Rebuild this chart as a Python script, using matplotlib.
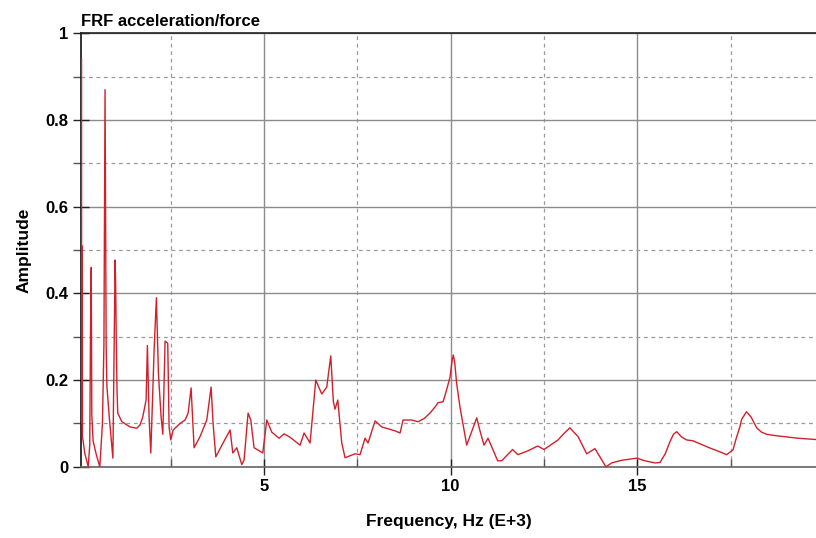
import matplotlib
matplotlib.use('Agg')
import matplotlib.pyplot as plt
from matplotlib.ticker import MultipleLocator, FormatStrFormatter

plt.rcParams['font.family'] = ['Liberation Sans', 'DejaVu Sans']

### DATA (frequency in kHz)

freq = [0.11, 0.113, 0.116, 0.12, 0.125, 0.135, 0.20, 0.29, 0.33, 0.35, 0.37, 0.385,
        0.42, 0.50, 0.60, 0.67, 0.71, 0.74, 0.755, 0.77, 0.79, 0.86, 0.95, 0.985,
        1.01, 1.025, 1.04, 1.06, 1.08, 1.19, 1.32, 1.41, 1.59, 1.68, 1.75, 1.84,
        1.875, 1.92, 1.966, 2.055, 2.116, 2.17, 2.242, 2.288, 2.349, 2.42, 2.456,
        2.502, 2.564, 2.75, 2.885, 2.966, 3.046, 3.126, 3.287, 3.466, 3.582, 3.635,
        3.708, 3.903, 4.091, 4.163, 4.27, 4.404, 4.466, 4.573, 4.645, 4.733, 4.966,
        5.074, 5.208, 5.403, 5.537, 5.70, 5.966, 6.073, 6.234, 6.386, 6.547, 6.681,
        6.788, 6.858, 6.903, 6.976, 7.083, 7.171, 7.439, 7.573, 7.707, 7.787, 7.975,
        8.154, 8.511, 8.645, 8.725, 8.958, 9.127, 9.30, 9.448, 9.60, 9.663, 9.797,
        9.90, 9.984, 10.04, 10.072, 10.11, 10.16, 10.25, 10.431, 10.699, 10.78,
        10.895, 11.002, 11.26, 11.369, 11.66, 11.8, 12.073, 12.333, 12.502, 12.877,
        13.05, 13.198, 13.30, 13.413, 13.646, 13.868, 14.16, 14.315, 14.583, 14.985,
        15.20, 15.475, 15.609, 15.75, 15.877, 15.97, 16.057, 16.20, 16.325, 16.493,
        16.90, 17.20, 17.396, 17.565, 17.65, 17.752, 17.80, 17.927, 18.05, 18.20,
        18.33, 18.468, 18.70, 18.905, 19.30, 19.79]

amp = [0.94, 0.10, 0.51, 0.30, 0.50, 0.07, 0.03, 0.0, 0.05, 0.31, 0.46, 0.12,
       0.06, 0.03, 0.0, 0.10, 0.28, 0.87, 0.60, 0.28, 0.185, 0.108, 0.02, 0.30,
       0.477, 0.415, 0.30, 0.18, 0.124, 0.104, 0.097, 0.092, 0.089, 0.097, 0.115, 0.154,
       0.28, 0.115, 0.032, 0.27, 0.39, 0.216, 0.115, 0.075, 0.29, 0.285, 0.092,
       0.062, 0.085, 0.10, 0.108, 0.124, 0.182, 0.044, 0.07, 0.108, 0.184, 0.10,
       0.023, 0.055, 0.085, 0.032, 0.044, 0.005, 0.016, 0.124, 0.108, 0.044, 0.032,
       0.108, 0.08, 0.066, 0.076, 0.068, 0.05, 0.078, 0.055, 0.20, 0.168, 0.184,
       0.256, 0.15, 0.133, 0.154, 0.055, 0.021, 0.03, 0.028, 0.066, 0.055, 0.106,
       0.092, 0.083, 0.078, 0.108, 0.108, 0.104, 0.112, 0.124, 0.14, 0.148, 0.15,
       0.18, 0.207, 0.245, 0.258, 0.24, 0.193, 0.138, 0.05, 0.113, 0.085,
       0.05, 0.066, 0.014, 0.014, 0.04, 0.028, 0.037, 0.048, 0.04, 0.062,
       0.078, 0.09, 0.08, 0.07, 0.03, 0.042, 0.0, 0.009, 0.015, 0.02,
       0.014, 0.009, 0.01, 0.03, 0.058, 0.075, 0.081, 0.068, 0.062, 0.06,
       0.045, 0.035, 0.028, 0.039, 0.065, 0.093, 0.11, 0.127, 0.115, 0.09,
       0.08, 0.075, 0.072, 0.07, 0.066, 0.063]

title = 'FRF acceleration/force'
xlabel = 'Frequency, Hz (E+3)'
ylabel = 'Amplitude'

### PLOT

fig = plt.figure(figsize=(8.16, 5.38), dpi=100)
ax = fig.add_axes([0.099, 0.1323, 0.901, 0.8058])

#zorder above spines so the first spike shows over the left axis line
ax.plot(freq, amp, color='#d0202c', lw=1.0, zorder=5)

ax.set_xlim(0.09, 19.79)
ax.set_ylim(0, 1)

ax.xaxis.set_major_locator(MultipleLocator(5))
ax.xaxis.set_minor_locator(MultipleLocator(2.5))
ax.yaxis.set_major_locator(MultipleLocator(0.2))
ax.yaxis.set_minor_locator(MultipleLocator(0.1))
ax.yaxis.set_major_formatter(FormatStrFormatter('%g'))

#solid grid on major, dashed on minor
ax.grid(which='major', color='#8c8c8c', lw=1.0, ls='-')
ax.grid(which='minor', color='#9a9a9a', lw=0.9, ls=(0, (3, 3)))
ax.set_axisbelow(True)

ax.tick_params(axis='both', which='major', direction='inout', length=11, width=1,
               labelsize=12, color='#222222')
ax.tick_params(axis='x', which='minor', direction='in', length=6, width=1, color='#555555')
ax.tick_params(axis='y', which='minor', direction='out', length=6, width=1, color='#555555')
for lab in ax.get_xticklabels() + ax.get_yticklabels():
    lab.set_fontweight('bold')

ax.spines['right'].set_visible(False)
ax.spines['top'].set_color('#222222')
ax.spines['top'].set_linewidth(1.2)
ax.spines['left'].set_color('#111111')
ax.spines['left'].set_linewidth(1.2)
ax.spines['bottom'].set_color('#666666')
ax.spines['bottom'].set_linewidth(1.2)

ax.set_xlabel(xlabel, fontsize=12.5, fontweight='bold', labelpad=14)
ax.set_ylabel(ylabel, fontsize=12.5, fontweight='bold', labelpad=10)
ax.set_title(title, loc='left', fontsize=12, fontweight='bold', pad=5)

fig.savefig('out.png', dpi=100)
